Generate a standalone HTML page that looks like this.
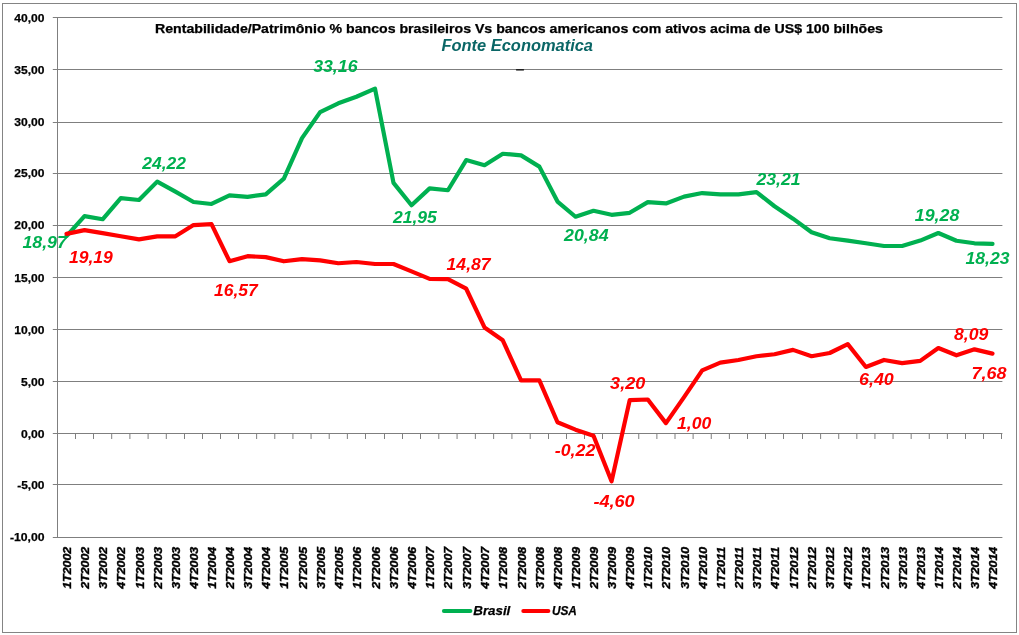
<!DOCTYPE html>
<html lang="pt-BR"><head><meta charset="utf-8"><title>Rentabilidade/Patrimônio % bancos brasileiros Vs bancos americanos</title>
<style>
html,body{margin:0;padding:0;background:#fff;}
body{width:1019px;height:635px;overflow:hidden;}
svg{display:block;font-family:"Liberation Sans",Arial,Helvetica,sans-serif;}
.b{font-weight:bold;}
.bi{font-weight:bold;font-style:italic;}
</style></head><body>
<svg width="1019" height="635" viewBox="0 0 1019 635">
<rect x="0" y="0" width="1019" height="635" fill="#ffffff"/>
<rect x="2.5" y="3.5" width="1014" height="629" fill="none" stroke="#848484" stroke-width="1"/>
<g stroke="#7f7f7f" stroke-width="1" fill="none">
<line x1="52.8" y1="17.50" x2="1002.4" y2="17.50"/>
<line x1="52.8" y1="69.50" x2="1002.4" y2="69.50"/>
<line x1="52.8" y1="122.50" x2="1002.4" y2="122.50"/>
<line x1="52.8" y1="173.50" x2="1002.4" y2="173.50"/>
<line x1="52.8" y1="225.50" x2="1002.4" y2="225.50"/>
<line x1="52.8" y1="277.50" x2="1002.4" y2="277.50"/>
<line x1="52.8" y1="329.50" x2="1002.4" y2="329.50"/>
<line x1="52.8" y1="381.50" x2="1002.4" y2="381.50"/>
<line x1="52.8" y1="433.50" x2="1002.4" y2="433.50"/>
<line x1="52.8" y1="484.50" x2="1002.4" y2="484.50"/>
<line x1="52.8" y1="537.50" x2="1002.4" y2="537.50"/>
<line x1="57.5" y1="17.00" x2="57.5" y2="538.00"/>
<line x1="57.50" y1="433.50" x2="57.50" y2="439.00"/>
<line x1="75.50" y1="433.50" x2="75.50" y2="439.00"/>
<line x1="93.50" y1="433.50" x2="93.50" y2="439.00"/>
<line x1="111.70" y1="433.50" x2="111.70" y2="439.00"/>
<line x1="129.90" y1="433.50" x2="129.90" y2="439.00"/>
<line x1="148.10" y1="433.50" x2="148.10" y2="439.00"/>
<line x1="166.30" y1="433.50" x2="166.30" y2="439.00"/>
<line x1="184.50" y1="433.50" x2="184.50" y2="439.00"/>
<line x1="202.50" y1="433.50" x2="202.50" y2="439.00"/>
<line x1="220.50" y1="433.50" x2="220.50" y2="439.00"/>
<line x1="238.50" y1="433.50" x2="238.50" y2="439.00"/>
<line x1="256.64" y1="433.50" x2="256.64" y2="439.00"/>
<line x1="274.79" y1="433.50" x2="274.79" y2="439.00"/>
<line x1="292.93" y1="433.50" x2="292.93" y2="439.00"/>
<line x1="311.07" y1="433.50" x2="311.07" y2="439.00"/>
<line x1="329.21" y1="433.50" x2="329.21" y2="439.00"/>
<line x1="347.36" y1="433.50" x2="347.36" y2="439.00"/>
<line x1="365.50" y1="433.50" x2="365.50" y2="439.00"/>
<line x1="384.50" y1="433.50" x2="384.50" y2="439.00"/>
<line x1="402.50" y1="433.50" x2="402.50" y2="439.00"/>
<line x1="420.50" y1="433.50" x2="420.50" y2="439.00"/>
<line x1="438.79" y1="433.50" x2="438.79" y2="439.00"/>
<line x1="457.07" y1="433.50" x2="457.07" y2="439.00"/>
<line x1="475.36" y1="433.50" x2="475.36" y2="439.00"/>
<line x1="493.64" y1="433.50" x2="493.64" y2="439.00"/>
<line x1="511.93" y1="433.50" x2="511.93" y2="439.00"/>
<line x1="530.21" y1="433.50" x2="530.21" y2="439.00"/>
<line x1="548.50" y1="433.50" x2="548.50" y2="439.00"/>
<line x1="566.50" y1="433.50" x2="566.50" y2="439.00"/>
<line x1="584.50" y1="433.50" x2="584.50" y2="439.00"/>
<line x1="602.50" y1="433.50" x2="602.50" y2="439.00"/>
<line x1="620.62" y1="433.50" x2="620.62" y2="439.00"/>
<line x1="638.75" y1="433.50" x2="638.75" y2="439.00"/>
<line x1="656.88" y1="433.50" x2="656.88" y2="439.00"/>
<line x1="675.00" y1="433.50" x2="675.00" y2="439.00"/>
<line x1="693.12" y1="433.50" x2="693.12" y2="439.00"/>
<line x1="711.25" y1="433.50" x2="711.25" y2="439.00"/>
<line x1="729.38" y1="433.50" x2="729.38" y2="439.00"/>
<line x1="747.50" y1="433.50" x2="747.50" y2="439.00"/>
<line x1="765.50" y1="433.50" x2="765.50" y2="439.00"/>
<line x1="783.50" y1="433.50" x2="783.50" y2="439.00"/>
<line x1="802.50" y1="433.50" x2="802.50" y2="439.00"/>
<line x1="820.61" y1="433.50" x2="820.61" y2="439.00"/>
<line x1="838.72" y1="433.50" x2="838.72" y2="439.00"/>
<line x1="856.83" y1="433.50" x2="856.83" y2="439.00"/>
<line x1="874.94" y1="433.50" x2="874.94" y2="439.00"/>
<line x1="893.06" y1="433.50" x2="893.06" y2="439.00"/>
<line x1="911.17" y1="433.50" x2="911.17" y2="439.00"/>
<line x1="929.28" y1="433.50" x2="929.28" y2="439.00"/>
<line x1="947.39" y1="433.50" x2="947.39" y2="439.00"/>
<line x1="965.50" y1="433.50" x2="965.50" y2="439.00"/>
<line x1="983.50" y1="433.50" x2="983.50" y2="439.00"/>
<line x1="1001.50" y1="433.50" x2="1001.50" y2="439.00"/>
</g>
<line x1="516.5" y1="69.8" x2="523.5" y2="69.8" stroke="#000" stroke-width="1.3" stroke-linecap="round"/>
<g class="b" font-size="11.6" fill="#000" stroke="#000" stroke-width="0.25" text-anchor="end">
<text x="44.5" y="21.70" textLength="30.2" lengthAdjust="spacingAndGlyphs">40,00</text>
<text x="44.5" y="73.70" textLength="30.2" lengthAdjust="spacingAndGlyphs">35,00</text>
<text x="44.5" y="125.70" textLength="30.2" lengthAdjust="spacingAndGlyphs">30,00</text>
<text x="44.5" y="176.70" textLength="30.2" lengthAdjust="spacingAndGlyphs">25,00</text>
<text x="44.5" y="228.70" textLength="30.2" lengthAdjust="spacingAndGlyphs">20,00</text>
<text x="44.5" y="281.80" textLength="30.2" lengthAdjust="spacingAndGlyphs">15,00</text>
<text x="44.5" y="333.70" textLength="30.2" lengthAdjust="spacingAndGlyphs">10,00</text>
<text x="44.5" y="385.70" textLength="23.6" lengthAdjust="spacingAndGlyphs">5,00</text>
<text x="44.5" y="437.70" textLength="23.6" lengthAdjust="spacingAndGlyphs">0,00</text>
<text x="44.5" y="488.70" textLength="27.3" lengthAdjust="spacingAndGlyphs">-5,00</text>
<text x="44.5" y="540.70" textLength="34.6" lengthAdjust="spacingAndGlyphs">-10,00</text>
</g>
<g class="bi" font-size="11.3" fill="#000" stroke="#000" stroke-width="0.4">
<text transform="translate(71.00,588.8) rotate(-90)" textLength="42" lengthAdjust="spacingAndGlyphs">1T2002</text>
<text transform="translate(89.00,588.8) rotate(-90)" textLength="42" lengthAdjust="spacingAndGlyphs">2T2002</text>
<text transform="translate(107.10,588.8) rotate(-90)" textLength="42" lengthAdjust="spacingAndGlyphs">3T2002</text>
<text transform="translate(125.30,588.8) rotate(-90)" textLength="42" lengthAdjust="spacingAndGlyphs">4T2002</text>
<text transform="translate(143.50,588.8) rotate(-90)" textLength="42" lengthAdjust="spacingAndGlyphs">1T2003</text>
<text transform="translate(161.70,588.8) rotate(-90)" textLength="42" lengthAdjust="spacingAndGlyphs">2T2003</text>
<text transform="translate(179.90,588.8) rotate(-90)" textLength="42" lengthAdjust="spacingAndGlyphs">3T2003</text>
<text transform="translate(198.00,588.8) rotate(-90)" textLength="42" lengthAdjust="spacingAndGlyphs">4T2003</text>
<text transform="translate(216.00,588.8) rotate(-90)" textLength="42" lengthAdjust="spacingAndGlyphs">1T2004</text>
<text transform="translate(234.00,588.8) rotate(-90)" textLength="42" lengthAdjust="spacingAndGlyphs">2T2004</text>
<text transform="translate(252.07,588.8) rotate(-90)" textLength="42" lengthAdjust="spacingAndGlyphs">3T2004</text>
<text transform="translate(270.21,588.8) rotate(-90)" textLength="42" lengthAdjust="spacingAndGlyphs">4T2004</text>
<text transform="translate(288.36,588.8) rotate(-90)" textLength="42" lengthAdjust="spacingAndGlyphs">1T2005</text>
<text transform="translate(306.50,588.8) rotate(-90)" textLength="42" lengthAdjust="spacingAndGlyphs">2T2005</text>
<text transform="translate(324.64,588.8) rotate(-90)" textLength="42" lengthAdjust="spacingAndGlyphs">3T2005</text>
<text transform="translate(342.79,588.8) rotate(-90)" textLength="42" lengthAdjust="spacingAndGlyphs">4T2005</text>
<text transform="translate(360.93,588.8) rotate(-90)" textLength="42" lengthAdjust="spacingAndGlyphs">1T2006</text>
<text transform="translate(379.50,588.8) rotate(-90)" textLength="42" lengthAdjust="spacingAndGlyphs">2T2006</text>
<text transform="translate(398.00,588.8) rotate(-90)" textLength="42" lengthAdjust="spacingAndGlyphs">3T2006</text>
<text transform="translate(416.00,588.8) rotate(-90)" textLength="42" lengthAdjust="spacingAndGlyphs">4T2006</text>
<text transform="translate(434.14,588.8) rotate(-90)" textLength="42" lengthAdjust="spacingAndGlyphs">1T2007</text>
<text transform="translate(452.43,588.8) rotate(-90)" textLength="42" lengthAdjust="spacingAndGlyphs">2T2007</text>
<text transform="translate(470.71,588.8) rotate(-90)" textLength="42" lengthAdjust="spacingAndGlyphs">3T2007</text>
<text transform="translate(489.00,588.8) rotate(-90)" textLength="42" lengthAdjust="spacingAndGlyphs">4T2007</text>
<text transform="translate(507.29,588.8) rotate(-90)" textLength="42" lengthAdjust="spacingAndGlyphs">1T2008</text>
<text transform="translate(525.57,588.8) rotate(-90)" textLength="42" lengthAdjust="spacingAndGlyphs">2T2008</text>
<text transform="translate(543.86,588.8) rotate(-90)" textLength="42" lengthAdjust="spacingAndGlyphs">3T2008</text>
<text transform="translate(562.00,588.8) rotate(-90)" textLength="42" lengthAdjust="spacingAndGlyphs">4T2008</text>
<text transform="translate(580.00,588.8) rotate(-90)" textLength="42" lengthAdjust="spacingAndGlyphs">1T2009</text>
<text transform="translate(598.00,588.8) rotate(-90)" textLength="42" lengthAdjust="spacingAndGlyphs">2T2009</text>
<text transform="translate(616.06,588.8) rotate(-90)" textLength="42" lengthAdjust="spacingAndGlyphs">3T2009</text>
<text transform="translate(634.19,588.8) rotate(-90)" textLength="42" lengthAdjust="spacingAndGlyphs">4T2009</text>
<text transform="translate(652.31,588.8) rotate(-90)" textLength="42" lengthAdjust="spacingAndGlyphs">1T2010</text>
<text transform="translate(670.44,588.8) rotate(-90)" textLength="42" lengthAdjust="spacingAndGlyphs">2T2010</text>
<text transform="translate(688.56,588.8) rotate(-90)" textLength="42" lengthAdjust="spacingAndGlyphs">3T2010</text>
<text transform="translate(706.69,588.8) rotate(-90)" textLength="42" lengthAdjust="spacingAndGlyphs">4T2010</text>
<text transform="translate(724.81,588.8) rotate(-90)" textLength="42" lengthAdjust="spacingAndGlyphs">1T2011</text>
<text transform="translate(742.94,588.8) rotate(-90)" textLength="42" lengthAdjust="spacingAndGlyphs">2T2011</text>
<text transform="translate(761.00,588.8) rotate(-90)" textLength="42" lengthAdjust="spacingAndGlyphs">3T2011</text>
<text transform="translate(779.00,588.8) rotate(-90)" textLength="42" lengthAdjust="spacingAndGlyphs">4T2011</text>
<text transform="translate(797.50,588.8) rotate(-90)" textLength="42" lengthAdjust="spacingAndGlyphs">1T2012</text>
<text transform="translate(816.06,588.8) rotate(-90)" textLength="42" lengthAdjust="spacingAndGlyphs">2T2012</text>
<text transform="translate(834.17,588.8) rotate(-90)" textLength="42" lengthAdjust="spacingAndGlyphs">3T2012</text>
<text transform="translate(852.28,588.8) rotate(-90)" textLength="42" lengthAdjust="spacingAndGlyphs">4T2012</text>
<text transform="translate(870.39,588.8) rotate(-90)" textLength="42" lengthAdjust="spacingAndGlyphs">1T2013</text>
<text transform="translate(888.50,588.8) rotate(-90)" textLength="42" lengthAdjust="spacingAndGlyphs">2T2013</text>
<text transform="translate(906.61,588.8) rotate(-90)" textLength="42" lengthAdjust="spacingAndGlyphs">3T2013</text>
<text transform="translate(924.72,588.8) rotate(-90)" textLength="42" lengthAdjust="spacingAndGlyphs">4T2013</text>
<text transform="translate(942.83,588.8) rotate(-90)" textLength="42" lengthAdjust="spacingAndGlyphs">1T2014</text>
<text transform="translate(960.94,588.8) rotate(-90)" textLength="42" lengthAdjust="spacingAndGlyphs">2T2014</text>
<text transform="translate(979.00,588.8) rotate(-90)" textLength="42" lengthAdjust="spacingAndGlyphs">3T2014</text>
<text transform="translate(997.00,588.8) rotate(-90)" textLength="42" lengthAdjust="spacingAndGlyphs">4T2014</text>
</g>
<text class="b" x="155" y="33.0" font-size="11.9" fill="#000" stroke="#000" stroke-width="0.25" textLength="728" lengthAdjust="spacingAndGlyphs">Rentabilidade/Patrimônio % bancos brasileiros Vs bancos americanos com ativos acima de US$ 100 bilhões</text>
<text class="bi" x="441.5" y="51.0" font-size="16" fill="#0a6666" textLength="151.5" lengthAdjust="spacingAndGlyphs">Fonte Economatica</text>
<path d="M66.50 236.21 L84.50 216.14 L102.60 219.26 L120.80 198.04 L139.00 200.02 L157.20 181.61 L175.40 191.60 L193.50 202.00 L211.50 203.97 L229.50 195.34 L247.57 196.90 L265.71 194.30 L283.86 178.70 L302.00 138.14 L320.14 112.14 L338.29 103.30 L356.43 96.75 L375.00 88.64 L393.50 182.86 L411.50 205.22 L429.64 188.37 L447.93 190.24 L466.21 160.08 L484.50 165.18 L502.79 153.74 L521.07 155.40 L539.36 166.64 L557.50 201.58 L575.50 216.76 L593.50 210.73 L611.56 214.79 L629.69 212.81 L647.81 202.10 L665.94 203.45 L684.06 196.59 L702.19 193.05 L720.31 194.30 L738.44 194.30 L756.50 192.12 L774.50 206.26 L793.00 218.64 L811.56 232.26 L829.67 238.29 L847.78 240.58 L865.89 243.28 L884.00 245.99 L902.11 245.99 L920.22 240.58 L938.33 232.99 L956.44 240.79 L974.50 243.28 L992.50 243.91" fill="none" stroke="#00b050" stroke-width="4.2" stroke-linejoin="round" stroke-linecap="round"/>
<path d="M66.50 233.92 L84.50 230.08 L102.60 233.09 L120.80 236.21 L139.00 239.33 L157.20 236.32 L175.40 236.32 L193.50 225.08 L211.50 224.15 L229.50 261.17 L247.57 256.18 L265.71 257.12 L283.86 261.28 L302.00 259.09 L320.14 260.34 L338.29 263.25 L356.43 262.00 L375.00 263.98 L393.50 263.98 L411.50 271.36 L429.64 278.85 L447.93 279.06 L466.21 288.73 L484.50 327.42 L502.79 340.32 L521.07 380.46 L539.36 380.46 L557.50 422.27 L575.50 429.65 L593.50 435.79 L611.56 481.34 L629.69 400.22 L647.81 399.49 L665.94 423.10 L684.06 397.10 L702.19 370.37 L720.31 362.57 L738.44 359.97 L756.50 356.23 L774.50 354.25 L793.00 349.88 L811.56 356.23 L829.67 353.00 L847.78 344.16 L865.89 366.94 L884.00 359.97 L902.11 363.09 L920.22 360.91 L938.33 348.01 L956.44 355.29 L974.50 349.36 L992.50 353.63" fill="none" stroke="#ff0000" stroke-width="4.2" stroke-linejoin="round" stroke-linecap="round"/>
<g class="bi" font-size="16">
<text x="22.4" y="247.6" fill="#00b050" textLength="44.5" lengthAdjust="spacingAndGlyphs">18,97</text>
<text x="142.3" y="168.9" fill="#00b050" textLength="43.7" lengthAdjust="spacingAndGlyphs">24,22</text>
<text x="313.2" y="71.5" fill="#00b050" textLength="44.3" lengthAdjust="spacingAndGlyphs">33,16</text>
<text x="392.9" y="223.3" fill="#00b050" textLength="43.9" lengthAdjust="spacingAndGlyphs">21,95</text>
<text x="564.1" y="240.9" fill="#00b050" textLength="44.5" lengthAdjust="spacingAndGlyphs">20,84</text>
<text x="756.5" y="184.9" fill="#00b050" textLength="44.0" lengthAdjust="spacingAndGlyphs">23,21</text>
<text x="914.8" y="220.6" fill="#00b050" textLength="44.5" lengthAdjust="spacingAndGlyphs">19,28</text>
<text x="965.5" y="264.1" fill="#00b050" textLength="44.0" lengthAdjust="spacingAndGlyphs">18,23</text>
<text x="68.9" y="263.0" fill="#ff0000" textLength="43.9" lengthAdjust="spacingAndGlyphs">19,19</text>
<text x="214.0" y="295.5" fill="#ff0000" textLength="43.7" lengthAdjust="spacingAndGlyphs">16,57</text>
<text x="446.6" y="270.0" fill="#ff0000" textLength="44.0" lengthAdjust="spacingAndGlyphs">14,87</text>
<text x="554.8" y="455.8" fill="#ff0000" textLength="40.5" lengthAdjust="spacingAndGlyphs">-0,22</text>
<text x="593.4" y="506.8" fill="#ff0000" textLength="41.2" lengthAdjust="spacingAndGlyphs">-4,60</text>
<text x="610.1" y="389.1" fill="#ff0000" textLength="35.2" lengthAdjust="spacingAndGlyphs">3,20</text>
<text x="677.0" y="428.9" fill="#ff0000" textLength="34.3" lengthAdjust="spacingAndGlyphs">1,00</text>
<text x="859.0" y="385.3" fill="#ff0000" textLength="34.8" lengthAdjust="spacingAndGlyphs">6,40</text>
<text x="954.0" y="340.3" fill="#ff0000" textLength="34.3" lengthAdjust="spacingAndGlyphs">8,09</text>
<text x="971.4" y="379.3" fill="#ff0000" textLength="35.0" lengthAdjust="spacingAndGlyphs">7,68</text>
</g>
<line x1="443.9" y1="611" x2="470.4" y2="611" stroke="#00b050" stroke-width="4" stroke-linecap="round"/>
<text class="bi" x="473.3" y="614.8" font-size="13.3" fill="#000" stroke="#000" stroke-width="0.25" textLength="37" lengthAdjust="spacingAndGlyphs">Brasil</text>
<line x1="523.3" y1="611" x2="548.4" y2="611" stroke="#ff0000" stroke-width="4" stroke-linecap="round"/>
<text class="bi" x="551.9" y="614.8" font-size="13.3" fill="#000" stroke="#000" stroke-width="0.25" textLength="25" lengthAdjust="spacingAndGlyphs">USA</text>
</svg></body></html>
